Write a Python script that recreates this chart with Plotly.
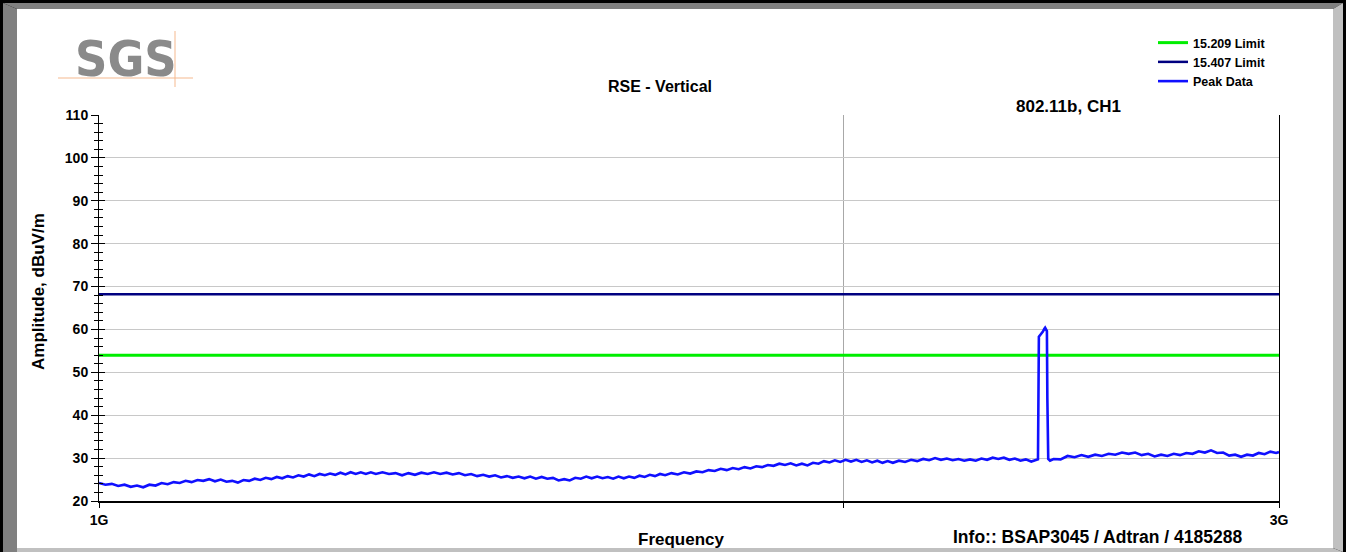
import plotly.graph_objects as go

# ---------------- data ----------------
freq_mhz = [
    1000, 1006, 1012, 1018, 1024, 1030, 1036, 1042, 1048, 1054,
    1060, 1066, 1072, 1078, 1084, 1090, 1096, 1102, 1108, 1114,
    1120, 1126, 1132, 1138, 1144, 1150, 1156, 1162, 1168, 1174,
    1180, 1186, 1192, 1198, 1204, 1210, 1216, 1222, 1228, 1234,
    1240, 1246, 1252, 1258, 1264, 1270, 1276, 1282, 1288, 1294,
    1302, 1310, 1318, 1326, 1334, 1342, 1350, 1358, 1366, 1374,
    1382, 1390, 1398, 1406, 1414, 1422, 1430, 1438, 1446, 1454,
    1462, 1470, 1478, 1486, 1494, 1502, 1510, 1518, 1526, 1534,
    1542, 1550, 1558, 1566, 1574, 1582, 1590, 1598, 1606, 1614,
    1622, 1630, 1638, 1646, 1654, 1662, 1670, 1678, 1686, 1694,
    1704, 1714, 1724, 1734, 1744, 1754, 1764, 1774, 1784, 1794,
    1804, 1814, 1824, 1834, 1844, 1854, 1864, 1874, 1884, 1894,
    1904, 1914, 1924, 1934, 1944, 1954, 1964, 1974, 1984, 1994,
    2004, 2014, 2024, 2034, 2044, 2054, 2064, 2074, 2084, 2094,
    2106, 2118, 2130, 2142, 2154, 2166, 2178, 2190, 2202, 2214,
    2226, 2238, 2250, 2262, 2274, 2286, 2298, 2310, 2322, 2334,
    2346, 2358, 2370, 2382, 2394,
    2397, 2398, 2399, 2402, 2405, 2408, 2411, 2413, 2415, 2417,
    2418, 2420, 2424,
    2432, 2448, 2464, 2480, 2496, 2512, 2528, 2544, 2560, 2576,
    2592, 2608, 2624, 2640, 2656, 2672, 2688, 2704, 2720, 2736,
    2752, 2768, 2784, 2800, 2816, 2832, 2848, 2864, 2880, 2896,
    2912, 2928, 2944, 2960, 2976, 2992, 3000,
]

peak_dbuv = [
    24.2, 23.8, 24.0, 23.5, 23.8, 23.3, 23.6, 23.2, 23.8, 23.6,
    24.2, 23.9, 24.4, 24.2, 24.7, 24.4, 24.9, 24.7, 25.1, 24.6,
    25.0, 24.5, 24.7, 24.3, 24.9, 24.7, 25.2, 24.9, 25.4, 25.1,
    25.6, 25.3, 25.8, 25.5, 26.0, 25.7, 26.2, 25.8, 26.3, 26.0,
    26.4, 26.1, 26.6, 26.2, 26.7, 26.3, 26.7, 26.3, 26.7, 26.3,
    26.7, 26.3, 26.5, 26.0, 26.5, 26.1, 26.6, 26.3, 26.7, 26.3,
    26.6, 26.2, 26.5, 26.0, 26.3, 25.8, 26.1, 25.7, 26.0, 25.5,
    25.8, 25.4, 25.7, 25.3, 25.7, 25.2, 25.6, 25.2, 25.4, 24.8,
    25.1, 24.8, 25.4, 25.2, 25.7, 25.3, 25.7, 25.3, 25.6, 25.2,
    25.7, 25.3, 25.7, 25.4, 25.9, 25.6, 26.1, 25.8, 26.3, 26.0,
    26.5, 26.2, 26.7, 26.4, 26.9, 26.7, 27.2, 27.0, 27.5, 27.2,
    27.7, 27.4, 27.9, 27.6, 28.1, 27.9, 28.4, 28.2, 28.7, 28.4,
    28.8, 28.3, 28.7, 28.3, 28.9, 28.7, 29.3, 29.0, 29.5, 29.1,
    29.6, 29.2, 29.6, 29.1, 29.5, 29.0, 29.4, 28.9, 29.3, 28.9,
    29.4, 29.1, 29.6, 29.3, 29.8, 29.5, 30.0, 29.6, 29.9, 29.5,
    29.8, 29.4, 29.7, 29.4, 29.9, 29.6, 30.1, 29.8, 30.1, 29.6,
    29.9, 29.4, 29.7, 29.2, 29.6,
    29.7, 44.0, 58.3, 58.7, 59.0, 59.5, 60.1, 60.4, 60.0, 59.6,
    44.0, 29.8, 29.4,
    29.8, 29.7, 30.5, 30.2, 30.7, 30.3, 30.8, 30.5, 31.0, 30.8,
    31.3, 31.0, 31.3, 30.7, 31.0, 30.4, 30.8, 30.5, 31.0, 30.7,
    31.2, 31.0, 31.6, 31.3, 31.8, 31.2, 31.3, 30.6, 30.8, 30.3,
    30.8, 30.6, 31.2, 30.9, 31.5, 31.2, 31.4,
]

limit_freq_mhz = [1000, 3000]
limit_15209 = [54, 54]
limit_15407 = [68.2, 68.2]

y_range = [20, 110]
x_tick_vals_mhz = [1000, 2000, 3000]
x_tick_text = ["1G", "", "3G"]

assert len(freq_mhz) == len(peak_dbuv)

# ---------------- layout helpers ----------------
W, H = 1346, 552
L, R, T, B = 99, 1279, 115, 501


def px(x):
    return (x - L) / (R - L)


def py(y):
    return (B - y) / (B - T)


def poly(points):
    return "M " + " L ".join(f"{px(a):.5f},{py(b):.5f}" for a, b in points) + " Z"


FONT = "Arial, Liberation Sans, sans-serif"

fig = go.Figure()
fig.add_trace(go.Scatter(
    x=[f * 1e6 for f in limit_freq_mhz], y=limit_15209, mode="lines",
    name="15.209 Limit", line=dict(color="#00ee00", width=3)))
fig.add_trace(go.Scatter(
    x=[f * 1e6 for f in limit_freq_mhz], y=limit_15407, mode="lines",
    name="15.407 Limit", line=dict(color="#000080", width=2.5)))
fig.add_trace(go.Scatter(
    x=[f * 1e6 for f in freq_mhz], y=peak_dbuv, mode="lines", yaxis="y2",
    name="Peak Data", line=dict(color="#1010ff", width=2.6)))

shapes = [
    # window frame
    dict(type="rect", xref="paper", yref="paper", x0=px(0), x1=px(W), y0=py(H), y1=py(0),
         fillcolor="#000000", line=dict(width=0), layer="below"),
    dict(type="path", xref="paper", yref="paper", path=poly([(3, 3), (17, 9), (17, 552), (3, 552)]),
         fillcolor="#808080", line=dict(width=0), layer="below"),
    dict(type="path", xref="paper", yref="paper", path=poly([(3, 3), (1343, 3), (1333, 9), (17, 9)]),
         fillcolor="#808080", line=dict(width=0), layer="below"),
    dict(type="path", xref="paper", yref="paper", path=poly([(1343, 3), (1343, 552), (1333, 548), (1333, 9)]),
         fillcolor="#c0c0c0", line=dict(width=0), layer="below"),
    dict(type="path", xref="paper", yref="paper", path=poly([(17, 552), (1343, 552), (1333, 548), (17, 548)]),
         fillcolor="#c0c0c0", line=dict(width=0), layer="below"),
    dict(type="rect", xref="paper", yref="paper", x0=px(17), x1=px(1333), y0=py(548), y1=py(9),
         fillcolor="#ffffff", line=dict(width=0), layer="below"),
    # logo cross lines
    dict(type="line", xref="paper", yref="paper", x0=px(58), x1=px(193), y0=py(78), y1=py(78),
         line=dict(color="#f5b98f", width=1)),
    dict(type="line", xref="paper", yref="paper", x0=px(175), x1=px(175), y0=py(31), y1=py(87),
         line=dict(color="#f5b98f", width=1)),
]

annotations = [
    dict(text="SGS", x=px(179), y=py(59), xref="paper", yref="paper", showarrow=False,
         xanchor="right", yanchor="middle",
         font=dict(family="DejaVu Sans Condensed, Liberation Sans Narrow, Arial Narrow, Liberation Sans, sans-serif",
                   size=50, color="#8a8a8a", weight="bold")),
    dict(text="RSE - Vertical", x=px(660), y=py(87), xref="paper", yref="paper", showarrow=False,
         xanchor="center", yanchor="middle", font=dict(family=FONT, size=16, color="black", weight="bold")),
    dict(text="802.11b, CH1", x=px(1068), y=py(107), xref="paper", yref="paper", showarrow=False,
         xanchor="center", yanchor="middle", font=dict(family=FONT, size=17, color="black", weight="bold")),
    dict(text="Amplitude, dBuV/m", x=px(38), y=py(292), xref="paper", yref="paper", showarrow=False,
         textangle=-90, xanchor="center", yanchor="middle",
         font=dict(family=FONT, size=17, color="black", weight="bold")),
    dict(text="Frequency", x=px(681), y=py(539), xref="paper", yref="paper", showarrow=False,
         xanchor="center", yanchor="middle", font=dict(family=FONT, size=17, color="black", weight="bold")),
    dict(text="Info:: BSAP3045 / Adtran / 4185288", x=px(1097), y=py(537), xref="paper", yref="paper",
         showarrow=False, xanchor="center", yanchor="middle",
         font=dict(family=FONT, size=17.5, color="black", weight="bold")),
]

fig.update_layout(
    width=W, height=H,
    margin=dict(l=L, r=W - R, t=T, b=H - B, pad=0, autoexpand=False),
    paper_bgcolor="white", plot_bgcolor="white",
    shapes=shapes, annotations=annotations,
    showlegend=True,
    legend=dict(x=px(1153), y=py(28), xanchor="left", yanchor="top",
                bgcolor="rgba(0,0,0,0)", borderwidth=0,
                font=dict(family=FONT, size=12.5, color="black", weight="bold"),
                itemwidth=30, tracegroupgap=0),
    xaxis=dict(
        type="log", range=[9, 9.47712125472], tickvals=[v * 1e6 for v in x_tick_vals_mhz],
        ticktext=x_tick_text, ticks="outside", ticklen=5, tickcolor="black", tickwidth=1,
        showgrid=True, gridcolor="#a8a8a8", gridwidth=1,
        showline=True, linecolor="black", linewidth=2, mirror=False, zeroline=False,
        tickfont=dict(family=FONT, size=14, color="black", weight="bold"),
    ),
    yaxis=dict(
        range=y_range, dtick=10, tick0=20, ticks="outside", ticklen=7, tickcolor="black", tickwidth=1,
        showgrid=True, gridcolor="#c8c8c8", gridwidth=1,
        showline=True, linecolor="black", linewidth=1, mirror=True, zeroline=False,
        tickfont=dict(family=FONT, size=14, color="black", weight="bold"),
        minor=dict(dtick=2, tick0=20, ticks="outside", ticklen=4, tickcolor="black", showgrid=False),
    ),
    yaxis2=dict(
        overlaying="y", side="left", anchor="x", range=y_range, dtick=10, tick0=20,
        ticks="inside", ticklen=6, tickcolor="black", showticklabels=False,
        showgrid=False, showline=False, zeroline=False,
        minor=dict(dtick=2, tick0=20, ticks="inside", ticklen=4, tickcolor="black", showgrid=False),
    ),
)

fig.write_html("out.html")
